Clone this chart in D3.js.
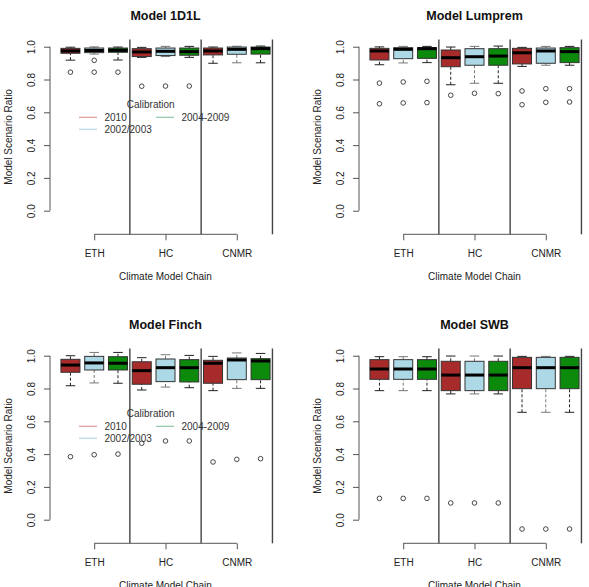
<!DOCTYPE html>
<html>
<head>
<meta charset="utf-8">
<script src="https://cdn.jsdelivr.net/npm/d3@7"></script>
<style>
  body { margin: 0; background: #fff; }
  svg { display: block; font-family: "Liberation Sans", Arial, Helvetica, sans-serif; }
</style>
</head>
<body>
<svg id="chart" width="589" height="587"></svg>
<script>
// boxplots of model scenario ratios, 4 models x 3 climate chains x 3 calibrations

var models = ["Model 1D1L", "Model Lumprem", "Model Finch", "Model SWB"]
var chains = ["ETH", "HC", "CNMR"]
var calibrations = ["2010", "2002/2003", "2004-2009"]

// box stats per model: 9 boxes (chain x calibration), each [lowWhisker, q1, median, q3, highWhisker]
var stats1D1L = [
  [0.918, 0.960, 0.974, 0.990, 0.997], [0.955, 0.964, 0.977, 0.992, 0.999], [0.919, 0.966, 0.978, 0.992, 0.998],
  [0.935, 0.940, 0.968, 0.988, 0.996], [0.940, 0.946, 0.972, 0.992, 1.002], [0.935, 0.948, 0.970, 0.992, 1.002],
  [0.899, 0.950, 0.974, 0.992, 0.998], [0.902, 0.954, 0.984, 0.998, 1.003], [0.902, 0.955, 0.988, 0.998, 1.004]
]
var stats1D1LOut = [[0.845], [0.917, 0.845], [0.845], [0.759], [0.760], [0.760], [], [], []]

var statsLumprem = [
  [0.890, 0.919, 0.974, 0.990, 0.999], [0.901, 0.927, 0.984, 0.994, 1.002], [0.903, 0.929, 0.988, 0.994, 1.002],
  [0.768, 0.878, 0.933, 0.980, 0.998], [0.777, 0.887, 0.939, 0.988, 1.002], [0.777, 0.887, 0.943, 0.988, 1.004],
  [0.880, 0.895, 0.963, 0.990, 0.996], [0.887, 0.899, 0.974, 0.992, 1.002], [0.887, 0.903, 0.970, 0.994, 1.002]
]
var statsLumpremOut = [[0.778, 0.652], [0.785, 0.657], [0.789, 0.659], [0.704], [0.716], [0.714], [0.730, 0.646], [0.744, 0.661], [0.744, 0.663]]

var statsFinch = [
  [0.817, 0.899, 0.943, 0.978, 1.000], [0.834, 0.913, 0.956, 0.996, 1.020], [0.832, 0.913, 0.954, 0.994, 1.020],
  [0.791, 0.826, 0.909, 0.963, 0.988], [0.809, 0.842, 0.927, 0.980, 1.006], [0.805, 0.840, 0.927, 0.976, 1.002],
  [0.787, 0.832, 0.954, 0.972, 0.996], [0.801, 0.854, 0.974, 0.986, 1.017], [0.801, 0.854, 0.968, 0.982, 1.014]
]
var statsFinchOut = [[0.384], [0.396], [0.400], [0.466], [0.480], [0.480], [0.352], [0.368], [0.372]]

var statsSWB = [
  [0.787, 0.856, 0.919, 0.976, 0.994], [0.787, 0.856, 0.919, 0.976, 0.994], [0.787, 0.856, 0.919, 0.976, 0.994],
  [0.767, 0.787, 0.882, 0.966, 0.998], [0.767, 0.787, 0.882, 0.966, 0.998], [0.767, 0.787, 0.882, 0.966, 0.998],
  [0.655, 0.799, 0.927, 0.990, 0.996], [0.655, 0.799, 0.927, 0.990, 0.996], [0.655, 0.799, 0.927, 0.990, 0.996]
]
var statsSWBOut = [[0.130], [0.130], [0.130], [0.102], [0.102], [0.102], [-0.057], [-0.057], [-0.057]]

var yTicks = [0, 0.2, 0.4, 0.6, 0.8, 1.0]

var allStats = [stats1D1L, statsLumprem, statsFinch, statsSWB]
var allOut = [stats1D1LOut, statsLumpremOut, statsFinchOut, statsSWBOut]
var hasLegend = [true, false, true, false]

var boxColors = ["#a82b2b", "#add8e6", "#0b8a0b"]
var legendColors = ["#dd9a9a", "#b5dbe8", "#8fc7a5"]
var whiskerColors = ["#222", "#777", "#222"]

var panelSize = 309
var dimensions = {
  margin: { left: 50, right: 281, top: 39.5, bottom: 234.3 }
}

var svg = d3.select("#chart")

models.forEach(function(model, i) {
  var col = i % 2, row = Math.floor(i / 2)
  var g = svg.append("g")
    .attr("transform", `translate(${col * panelSize},${row * panelSize})`)

  // R-like usr: 0.5..9.5 and -0.1..1 extended by 4%
  var xScale = d3.scaleLinear()
    .domain([0.14, 9.86])
    .range([dimensions.margin.left, dimensions.margin.right])
  var yScale = d3.scaleLinear()
    .domain([-0.144, 1.044])
    .range([dimensions.margin.bottom, dimensions.margin.top])

  var boxes = []
  allStats[i].forEach(function(s, k) {
    boxes.push({ pos: k + 1, cal: k % 3, s: s, out: allOut[i][k] })
  })

  var halfW = (xScale(1.4) - xScale(1)) // boxwex 0.8
  var staple = halfW / 2

  var bg = g.append("g").selectAll("g").data(boxes).enter().append("g")

  // whiskers (dashed)
  bg.append("line")
    .attr("x1", d => xScale(d.pos)).attr("x2", d => xScale(d.pos))
    .attr("y1", d => yScale(d.s[0])).attr("y2", d => yScale(d.s[1]))
    .attr("stroke", d => whiskerColors[d.cal]).attr("stroke-width", 1)
    .attr("stroke-dasharray", "3,2")
  bg.append("line")
    .attr("x1", d => xScale(d.pos)).attr("x2", d => xScale(d.pos))
    .attr("y1", d => yScale(d.s[3])).attr("y2", d => yScale(d.s[4]))
    .attr("stroke", d => whiskerColors[d.cal]).attr("stroke-width", 1)
    .attr("stroke-dasharray", "3,2")
  // staples
  bg.selectAll(".staple").data(d => [[d, 0], [d, 4]]).enter().append("line")
    .attr("x1", p => xScale(p[0].pos) - staple).attr("x2", p => xScale(p[0].pos) + staple)
    .attr("y1", p => yScale(p[0].s[p[1]])).attr("y2", p => yScale(p[0].s[p[1]]))
    .attr("stroke", p => whiskerColors[p[0].cal]).attr("stroke-width", 1)

  // box
  bg.append("rect")
    .attr("x", d => xScale(d.pos) - halfW)
    .attr("width", halfW * 2)
    .attr("y", d => yScale(d.s[3]))
    .attr("height", d => yScale(d.s[1]) - yScale(d.s[3]))
    .attr("fill", d => boxColors[d.cal])
    .attr("stroke", "#333").attr("stroke-width", 1)
  // median
  bg.append("line")
    .attr("x1", d => xScale(d.pos) - halfW).attr("x2", d => xScale(d.pos) + halfW)
    .attr("y1", d => yScale(d.s[2])).attr("y2", d => yScale(d.s[2]))
    .attr("stroke", "#000").attr("stroke-width", 3)
  // outliers
  bg.selectAll("circle").data(d => d.out.map(v => [d.pos, v])).enter().append("circle")
    .attr("cx", p => xScale(p[0])).attr("cy", p => yScale(p[1]))
    .attr("r", 2.3).attr("fill", "none").attr("stroke", "#333").attr("stroke-width", 0.9)

  // chain separators
  g.append("g").selectAll("line").data([3.5, 6.5, 9.5]).enter().append("line")
    .attr("x1", d => xScale(d)).attr("x2", d => xScale(d))
    .attr("y1", dimensions.margin.top).attr("y2", dimensions.margin.bottom)
    .attr("stroke", "#444").attr("stroke-width", 1.4)

  // y axis
  var yAxisGen = d3.axisLeft(yScale).tickValues(yTicks).tickFormat(d3.format(".1f")).tickSize(6)
  var yAxis = g.append("g")
    .attr("transform", `translate(${dimensions.margin.left},0)`)
    .call(yAxisGen)
  yAxis.select(".domain").remove()
  yAxis.append("line")
    .attr("y1", yScale(0)).attr("y2", yScale(1))
    .attr("stroke", "#555")
  yAxis.selectAll(".tick line").attr("stroke", "#555")
  yAxis.selectAll(".tick text")
    .attr("x", 0).attr("dy", "0.35em")
    .attr("text-anchor", "middle")
    .attr("transform", "translate(-18.3,0) rotate(-90)")
    .style("font-size", "10px").attr("fill", "#222")
    .attr("font-family", null)

  // x axis
  var xAxisGen = d3.axisBottom(xScale).tickValues([2, 5, 8]).tickFormat((d, j) => chains[j]).tickSize(6)
  var xAxis = g.append("g")
    .attr("transform", `translate(0,${dimensions.margin.bottom})`)
    .call(xAxisGen)
  xAxis.select(".domain").remove()
  xAxis.append("line")
    .attr("x1", xScale(2)).attr("x2", xScale(8))
    .attr("stroke", "#555")
  xAxis.selectAll(".tick line").attr("stroke", "#555")
  xAxis.selectAll(".tick text")
    .attr("y", 0).attr("dy", "1em")
    .attr("transform", "translate(0,13)")
    .style("font-size", "10px").attr("fill", "#222")
    .attr("font-family", null)

  var cx = (dimensions.margin.left + dimensions.margin.right) / 2

  g.append("text")
    .text(model)
    .attr("x", cx).attr("y", 19.5)
    .attr("text-anchor", "middle")
    .style("font-size", "12.5px").style("font-weight", "bold").attr("fill", "#111")

  g.append("text")
    .text("Climate Model Chain")
    .attr("x", cx).attr("y", 280.3)
    .attr("text-anchor", "middle")
    .style("font-size", "10px").attr("fill", "#222")

  g.append("text")
    .text("Model Scenario Ratio")
    .attr("text-anchor", "middle")
    .attr("transform", `translate(11.5,${(dimensions.margin.top + dimensions.margin.bottom) / 2}) rotate(-90)`)
    .style("font-size", "10px").attr("fill", "#222")

  if (hasLegend[i]) {
    var lg = g.append("g")
    lg.append("text").text("Calibration")
      .attr("x", 150.7).attr("y", 107.8)
      .attr("text-anchor", "middle")
      .style("font-size", "10px").attr("fill", "#333")
    var items = [
      { x: 79, y: 117.3 },
      { x: 79, y: 129.3 },
      { x: 156, y: 117.3 }
    ]
    calibrations.forEach(function(c, k) {
      lg.append("line")
        .attr("x1", items[k].x).attr("x2", items[k].x + 18)
        .attr("y1", items[k].y).attr("y2", items[k].y)
        .attr("stroke", legendColors[k]).attr("stroke-width", 1.2)
      lg.append("text").text(c)
        .attr("x", items[k].x + 25.5).attr("y", items[k].y + 3.5)
        .style("font-size", "10px").attr("fill", "#333")
    })
  }
})
</script>
</body>
</html>
